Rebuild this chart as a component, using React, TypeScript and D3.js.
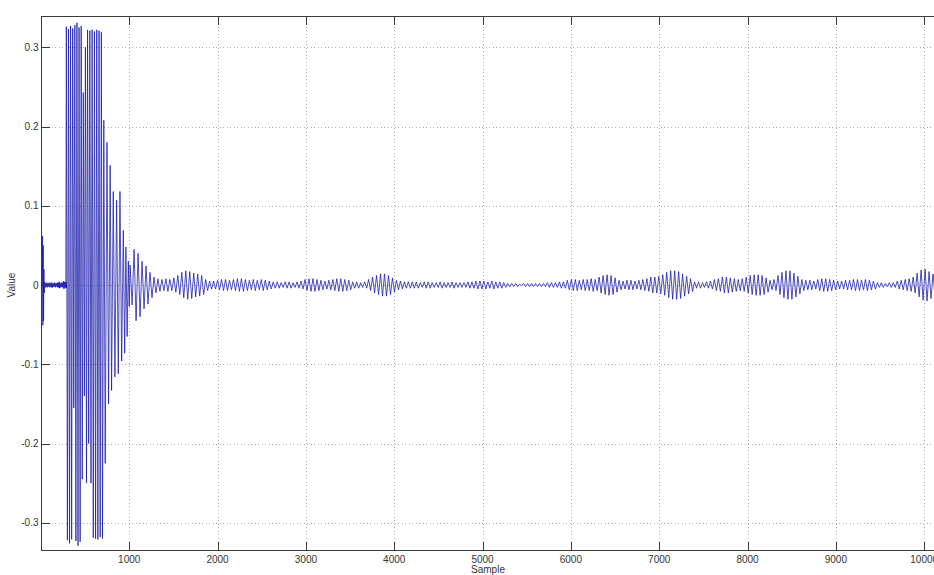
import React from "react";
import * as d3 from "d3";

const W = 934;
const H = 575;

// Axes / ticks
const xTickValues = [1000, 2000, 3000, 4000, 5000, 6000, 7000, 8000, 9000, 10000];
const yTickValues = [-0.3, -0.2, -0.1, 0, 0.1, 0.2, 0.3];
const yTickLabels = ["-0.3", "-0.2", "-0.1", "0", "0.1", "0.2", "0.3"];
const sampleRange = [1, 10240];
const valueRange = [-0.335, 0.3395];

// Onset transient (explicit extremes)
const onsetSamples = [1, 14, 18, 22, 26, 30, 34, 38, 42];
const onsetValues = [0, 0, 0.062, -0.051, 0.05, -0.045, 0.02, -0.01, 0.004];

// Quiet section before the burst: amplitude per cycle (x 0.001), cycle = 10 samples
const quietStart = 46;
const quietAmplitudes = [3, 2, 3, 2, 2, 3, 2, 3, 3, 2, 2, 3, 2, 2, 3, 3, 4, 3, 2, 3, 3, 5, 4, 3, 4];

// Main burst (explicit extremes)
const burstSamples = [
  282, 288, 300, 312, 324, 336, 348, 360, 372, 384, 396, 408, 420, 432, 444, 456,
  468, 480, 492, 504, 516, 528, 541, 554, 567, 580, 593, 606, 619, 632, 645, 658,
  671, 684, 697, 712, 728, 748, 766, 784, 800, 819, 838, 857, 876, 895, 914, 933,
  948, 962, 976, 990, 1000,
];
const burstValues = [
  0.002, 0.326, -0.322, 0.323, -0.326, 0.327, -0.321, 0.324, -0.155, 0.328, -0.323, 0.331, -0.329, 0.325, -0.324, 0.327,
  -0.245, 0.243, -0.14, 0.3, -0.25, 0.322, -0.2, 0.321, -0.25, 0.322, -0.319, 0.32, -0.32, 0.322, -0.321, 0.321,
  -0.318, 0.319, -0.32, 0.208, -0.225, 0.18, -0.15, 0.151, -0.133, 0.118, -0.116, 0.107, -0.112, 0.118, -0.096, 0.069,
  -0.086, 0.048, -0.065, 0.03, -0.027,
];

// Long tail: amplitude per cycle (x 0.001), cycle = 45 samples
const tailStart = 1010;
const tailAmplitudes = [
  25, 45, 40, 30, 24, 16, 10, 8, 7, 8, 7, 9, 12, 16, 18, 17, 15, 14, 12, 7, 5, 5,
  6, 7, 7, 6, 7, 8, 8, 7, 6, 7, 6, 7, 6, 5,
  4, 4, 3, 4, 4, 3, 4, 5,
  7, 8, 8, 7,
  6, 5, 6,
  7, 8, 8, 7, 6,
  4, 4, 3, 4,
  7, 10, 12, 14, 14, 12, 9, 6,
  5, 4, 4, 4, 4, 3, 4, 4, 3, 3, 4, 3, 3, 4, 3, 3, 3, 4, 4, 5,
  5, 5, 4, 5, 4, 4, 3,
  2, 2, 2, 1, 2, 2, 2, 2, 2, 2,
  3, 3, 3, 4, 4,
  6, 7, 7, 6, 7, 7, 8, 7,
  10, 12, 13, 12, 9,
  6, 5, 6, 6, 5, 6, 7, 8,
  10, 10, 11,
  13, 16, 18, 18, 17, 14, 11, 8,
  4, 4, 3, 4, 5,
  7, 8, 10, 10, 9, 8, 7, 8,
  10, 12, 13, 13, 12, 9,
  6, 7,
  12, 16, 18, 18, 15, 11,
  7, 6, 6, 5,
  7, 8, 8, 7, 6,
  5, 5, 6, 6, 7, 7, 6, 7, 6, 5, 3, 3, 2, 3, 3,
  5, 6, 7, 8, 10,
  15, 19, 20, 17, 14,
  11, 8,
];

const PLOT_LEFT = 41;
const PLOT_RIGHT = 945.4;
const PLOT_TOP = 16;
const PLOT_BOTTOM = 550.5;

export default function App() {
  const x = d3.scaleLinear().domain(sampleRange).range([PLOT_LEFT, PLOT_RIGHT]);
  const y = d3.scaleLinear().domain(valueRange).range([PLOT_BOTTOM, PLOT_TOP]);

  const pts: [number, number][] = [];
  onsetSamples.forEach((s, i) => pts.push([s, onsetValues[i]]));
  quietAmplitudes.forEach((a, i) => {
    pts.push([quietStart + i * 10, a / 1000]);
    pts.push([quietStart + i * 10 + 5, -a / 1000]);
  });
  burstSamples.forEach((s, i) => pts.push([s, burstValues[i]]));
  tailAmplitudes.forEach((a, i) => {
    pts.push([tailStart + i * 45, a / 1000]);
    pts.push([tailStart + i * 45 + 22.5, -a / 1000]);
  });

  const line = d3
    .line<[number, number]>()
    .x((d) => x(d[0]))
    .y((d) => y(d[1]));

  const font = "'Liberation Sans', Arial, sans-serif";
  const axisColor = "#3a3a3a";
  const gridColor = "#9a9a9a";
  const tickLen = 9;

  return (
    <div style={{ position: "fixed", left: 0, top: 0, width: W, height: H, background: "#fff" }}>
      <svg width={W} height={H} style={{ display: "block" }}>
        <defs>
          <clipPath id="plotClip">
            <rect x={PLOT_LEFT} y={PLOT_TOP} width={PLOT_RIGHT - PLOT_LEFT} height={PLOT_BOTTOM - PLOT_TOP} />
          </clipPath>
        </defs>
        <rect x={0} y={0} width={W} height={H} fill="#fff" />

        {/* grid */}
        <g stroke={gridColor} strokeWidth={0.8} strokeDasharray="1,2.5" shapeRendering="crispEdges">
          {xTickValues.map((t) => (
            <line key={"gx" + t} x1={Math.round(x(t)) + 0.5} x2={Math.round(x(t)) + 0.5} y1={PLOT_TOP} y2={PLOT_BOTTOM} />
          ))}
          {yTickValues.map((t) => (
            <line key={"gy" + t} x1={PLOT_LEFT} x2={PLOT_RIGHT} y1={Math.round(y(t)) + 0.5} y2={Math.round(y(t)) + 0.5} />
          ))}
        </g>

        {/* data */}
        <path
          d={line(pts) || ""}
          fill="none"
          stroke="#1414a8"
          strokeWidth={0.75}
          strokeLinejoin="miter"
          clipPath="url(#plotClip)"
        />

        {/* axes box */}
        <g stroke={axisColor} strokeWidth={1} shapeRendering="crispEdges" fill="none">
          <line x1={PLOT_LEFT + 0.5} x2={PLOT_LEFT + 0.5} y1={PLOT_TOP} y2={PLOT_BOTTOM} />
          <line x1={PLOT_LEFT} x2={PLOT_RIGHT} y1={PLOT_TOP + 0.5} y2={PLOT_TOP + 0.5} />
          <line x1={PLOT_LEFT} x2={PLOT_RIGHT} y1={Math.round(PLOT_BOTTOM) - 0.5} y2={Math.round(PLOT_BOTTOM) - 0.5} />
          {xTickValues.map((t) => (
            <g key={"tx" + t}>
              <line x1={Math.round(x(t)) + 0.5} x2={Math.round(x(t)) + 0.5} y1={PLOT_BOTTOM} y2={PLOT_BOTTOM - tickLen} />
              <line x1={Math.round(x(t)) + 0.5} x2={Math.round(x(t)) + 0.5} y1={PLOT_TOP} y2={PLOT_TOP + tickLen} />
            </g>
          ))}
          {yTickValues.map((t) => (
            <line key={"ty" + t} x1={PLOT_LEFT} x2={PLOT_LEFT + tickLen} y1={Math.round(y(t)) + 0.5} y2={Math.round(y(t)) + 0.5} />
          ))}
        </g>

        {/* tick labels */}
        <g fontFamily={font} fontSize={10} fill="#333">
          {xTickValues.map((t) => (
            <text key={"lx" + t} x={x(t)} y={563} textAnchor="middle">
              {String(t)}
            </text>
          ))}
          {yTickValues.map((t, i) => (
            <text key={"ly" + t} x={38.5} y={y(t) + 3.5} textAnchor="end">
              {yTickLabels[i]}
            </text>
          ))}
          <text x={488} y={572.5} textAnchor="middle">
            Sample
          </text>
          <text transform={`translate(15, ${y(0)}) rotate(-90)`} textAnchor="middle">
            Value
          </text>
        </g>
      </svg>
    </div>
  );
}
